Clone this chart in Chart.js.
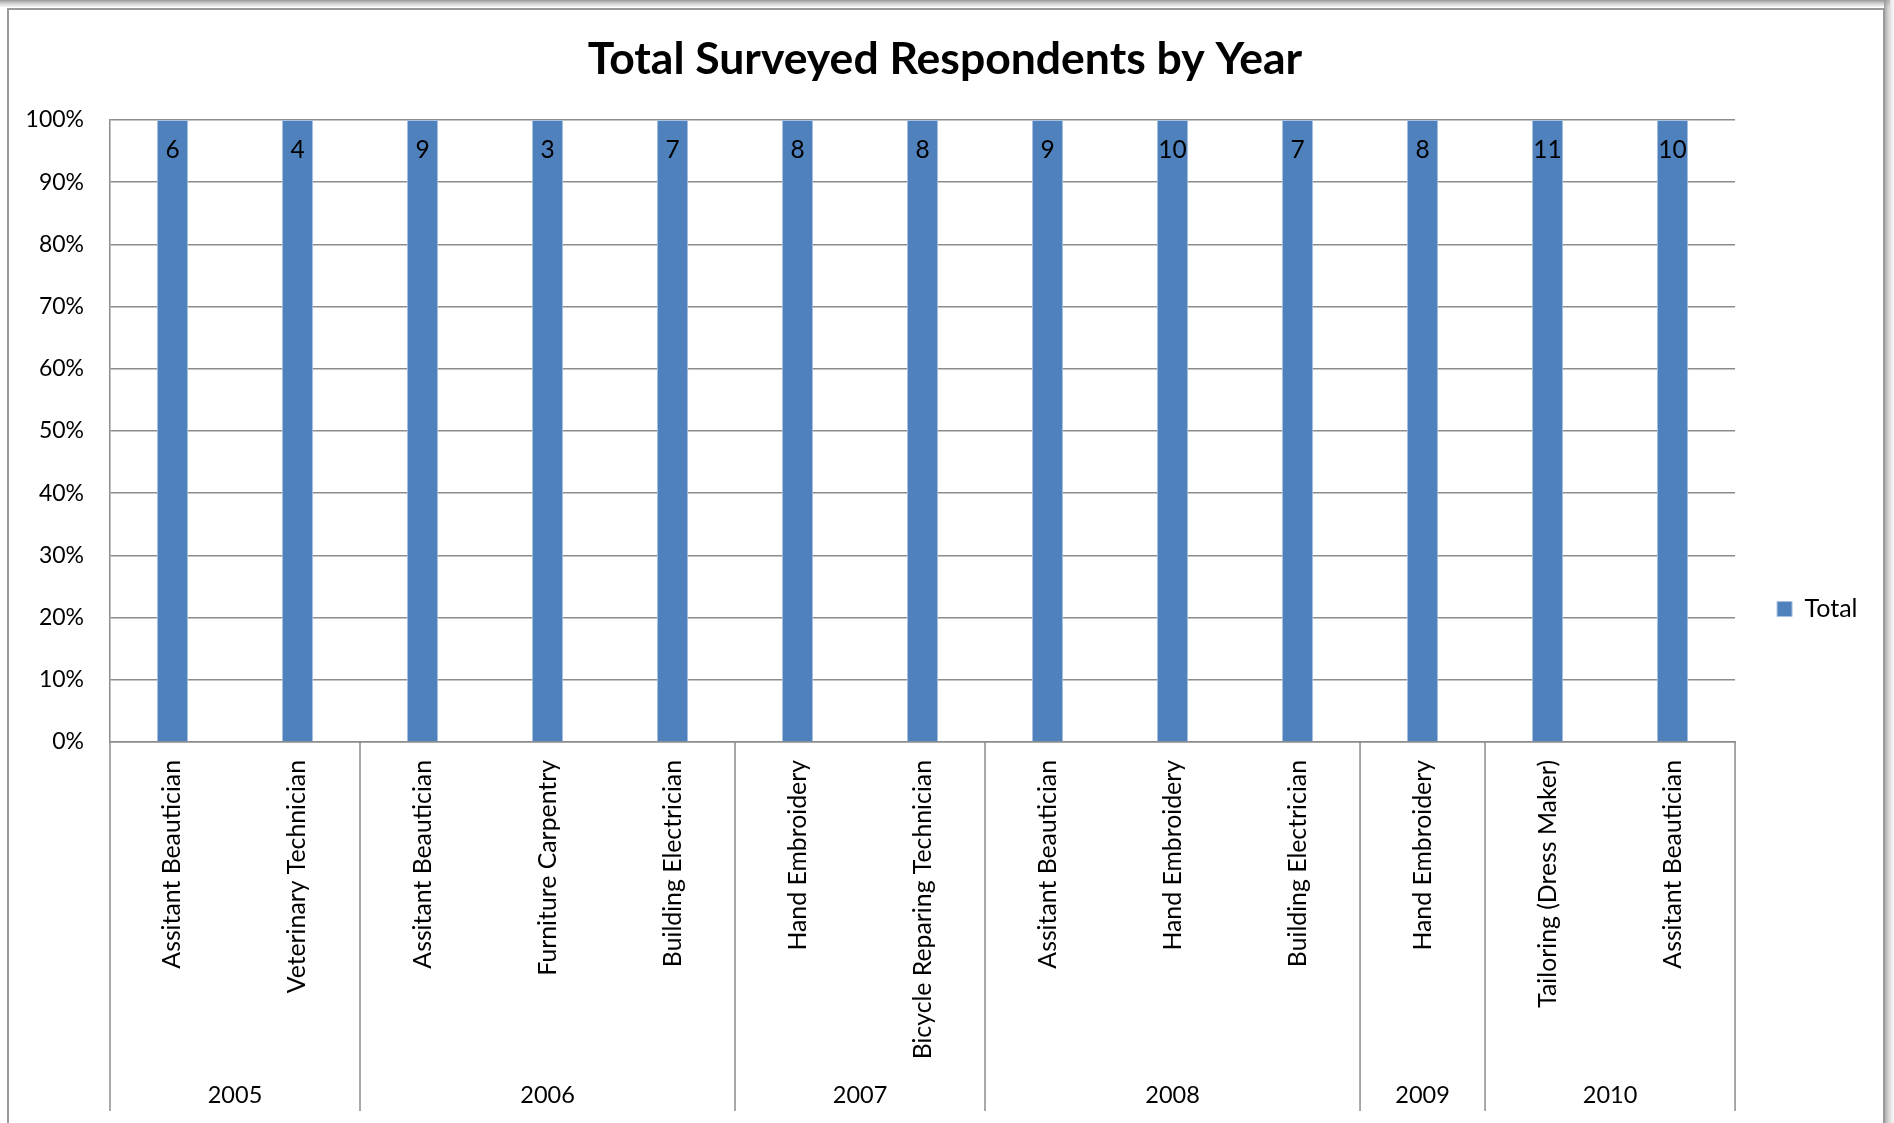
<!DOCTYPE html>
<html>
<head>
<meta charset="utf-8">
<script src="https://cdn.jsdelivr.net/npm/chart.js@4.4.1/dist/chart.umd.min.js"></script>
<style>
  html, body { margin: 0; padding: 0; background: #ffffff; }
  #wrap { position: absolute; left: 0; top: 0; width: 1894px; height: 1123px; }
</style>
</head>
<body>
<div id="wrap"><canvas id="c" width="1894" height="1123"></canvas></div>
<script>
// ---- data ----
const categories = [
  'Assitant Beautician', 'Veterinary Technician',
  'Assitant Beautician', 'Furniture Carpentry', 'Building Electrician',
  'Hand Embroidery', 'Bicycle Reparing Technician',
  'Assitant Beautician', 'Hand Embroidery', 'Building Electrician',
  'Hand Embroidery',
  'Tailoring (Dress Maker)', 'Assitant Beautician'
];
const years = ['2005', '2006', '2007', '2008', '2009', '2010'];
const yearGroupSizes = [2, 3, 2, 3, 1, 2];
const totals = [6, 4, 9, 3, 7, 8, 8, 9, 10, 7, 8, 11, 10];
const seriesName = 'Total';
const chartTitle = 'Total Surveyed Respondents by Year';

// 100% stacked: each category's share of its own total
const percentShares = totals.map(v => v / v * 100);

const FONT = 'Lato';
const GRID = '#8C8C8C';
const PAD_L = 22.5;

const framePlugin = {
  id: 'frame',
  beforeDraw(chart) {
    const ctx = chart.ctx;
    ctx.save();
    ctx.fillStyle = '#ffffff';
    ctx.fillRect(0, 0, chart.width, chart.height);
    const g = ctx.createLinearGradient(0, 0, 0, 7);
    g.addColorStop(0, 'rgba(140,140,140,0.9)');
    g.addColorStop(1, 'rgba(200,200,200,0.2)');
    ctx.fillStyle = g;
    ctx.fillRect(0, 0, 1890, 7);
    const g2 = ctx.createLinearGradient(1884, 0, 1894, 0);
    g2.addColorStop(0, 'rgba(150,150,150,0.9)');
    g2.addColorStop(1, 'rgba(230,230,230,0.3)');
    ctx.fillStyle = g2;
    ctx.fillRect(1884, 0, 10, chart.height);
    ctx.strokeStyle = '#9A9A9A';
    ctx.lineWidth = 2;
    ctx.strokeRect(8, 9, 1876, chart.height + 20);
    ctx.restore();
  }
};

const groupAxisPlugin = {
  id: 'groupAxis',
  afterDraw(chart) {
    const ctx = chart.ctx;
    const xs = chart.scales.x;
    const n = categories.length;
    const catW = (xs.getPixelForValue(n - 1) - xs.getPixelForValue(0)) / (n - 1);
    const top = xs.top;
    const bottom = 1111;
    ctx.save();
    ctx.strokeStyle = GRID;
    ctx.lineWidth = 1.5;
    let idx = 0;
    const bounds = [xs.getPixelForValue(0) - catW / 2];
    yearGroupSizes.forEach(sz => {
      idx += sz;
      bounds.push(xs.getPixelForValue(idx - 1) + catW / 2);
    });
    bounds.forEach(b => {
      ctx.beginPath();
      ctx.moveTo(b, top);
      ctx.lineTo(b, bottom);
      ctx.stroke();
    });
    ctx.fillStyle = '#000';
    ctx.font = '23.5px ' + FONT;
    ctx.textAlign = 'center';
    ctx.textBaseline = 'middle';
    years.forEach((y, i) => {
      ctx.fillText(y, (bounds[i] + bounds[i + 1]) / 2, 1095);
    });
    ctx.restore();
  }
};

const dataLabelPlugin = {
  id: 'dataLabels',
  afterDatasetsDraw(chart) {
    const ctx = chart.ctx;
    const meta = chart.getDatasetMeta(0);
    ctx.save();
    ctx.fillStyle = '#000';
    ctx.font = '24.5px ' + FONT;
    ctx.textAlign = 'center';
    ctx.textBaseline = 'middle';
    meta.data.forEach((bar, i) => {
      ctx.fillText(String(totals[i]), bar.x, bar.y + 30);
    });
    ctx.restore();
  }
};

new Chart(document.getElementById('c'), {
  type: 'bar',
  data: {
    labels: categories,
    datasets: [{
      label: seriesName,
      data: percentShares,
      backgroundColor: '#4F81BD',
      borderColor: '#A9C1E0',
      borderWidth: 1,
      barPercentage: 0.25,
      categoryPercentage: 1.0
    }]
  },
  options: {
    responsive: false,
    animation: false,
    layout: { padding: { left: PAD_L, right: 26.5, top: 33, bottom: 0 } },
    plugins: {
      title: {
        display: true,
        text: chartTitle,
        color: '#000',
        font: { family: FONT, size: 44.5, weight: 'bold' },
        padding: { top: 0, bottom: 33.5 }
      },
      legend: {
        position: 'right',
        title: { display: true, text: '', font: { size: 10 }, padding: { top: 50, bottom: 0 } },
        labels: {
          boxWidth: 15, boxHeight: 15, padding: 42,
          color: '#000',
          font: { family: FONT, size: 25 }
        }
      },
      tooltip: { enabled: false }
    },
    scales: {
      x: {
        stacked: true,
        grid: { display: false, drawTicks: false },
        border: { color: GRID, width: 1.5 },
        ticks: {
          minRotation: 90, maxRotation: 90, autoSkip: false,
          padding: 18, color: '#000',
          font: { family: FONT, size: 24.8 }
        },
        afterFit(s) { s.height = 381; }
      },
      y: {
        stacked: true,
        min: 0, max: 100,
        grid: { color: GRID, lineWidth: 1.5, drawTicks: false },
        border: { color: GRID, width: 1.5 },
        ticks: {
          stepSize: 10, padding: 26, color: '#000',
          font: { family: FONT, size: 23 },
          callback: v => v + '%'
        },
        afterFit(s) { s.width = 110 - PAD_L; }
      }
    }
  },
  plugins: [framePlugin, groupAxisPlugin, dataLabelPlugin]
});
</script>
</body>
</html>
